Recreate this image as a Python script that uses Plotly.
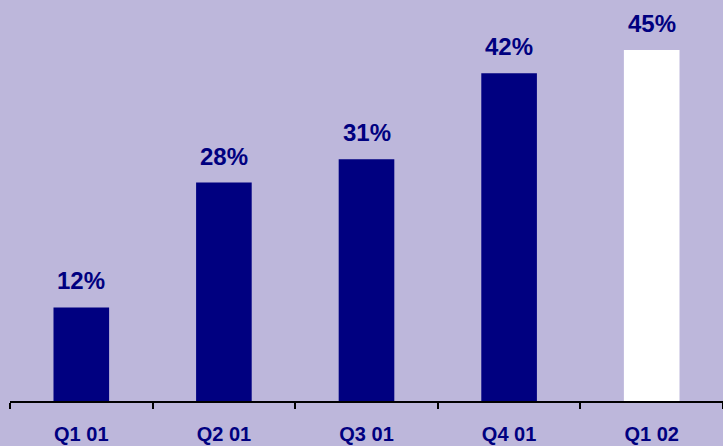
import plotly.graph_objects as go

categories = ["Q1 01", "Q2 01", "Q3 01", "Q4 01", "Q1 02"]
values = [12, 28, 31, 42, 45]
labels = ["12%", "28%", "31%", "42%", "45%"]
bar_colors = ["#000080", "#000080", "#000080", "#000080", "#FFFFFF"]

BG = "#BDB7DB"
NAVY = "#000080"

fig = go.Figure()
fig.add_trace(go.Bar(x=categories, y=values, marker=dict(color=bar_colors, line=dict(width=0)),
                     hoverinfo="skip"))

for c, v, t in zip(categories, values, labels):
    fig.add_annotation(x=c, y=v, text=t, showarrow=False, yanchor="bottom", yshift=11,
                       font=dict(family="Liberation Sans, Arial", size=24, color=NAVY, weight="bold"))

fig.update_layout(
    width=723, height=446,
    margin=dict(l=10, r=0, t=0, b=45),
    paper_bgcolor=BG, plot_bgcolor=BG,
    bargap=0.61,
    showlegend=False,
)
fig.update_xaxes(
    showline=True, linecolor="black", linewidth=2,
    ticks="outside", tickson="boundaries", ticklen=6, tickwidth=2, tickcolor="black",
    ticklabelstandoff=14,
    tickfont=dict(family="Liberation Sans, Arial", size=20, color=NAVY, weight="bold"),
    showgrid=False, zeroline=False,
)
fig.update_yaxes(range=[0, 51.4], visible=False, showgrid=False, zeroline=False)

fig.write_html("out.html", config={"displayModeBar": False},
               post_script="document.body.style.margin='0';document.body.style.background='#BDB7DB';")
